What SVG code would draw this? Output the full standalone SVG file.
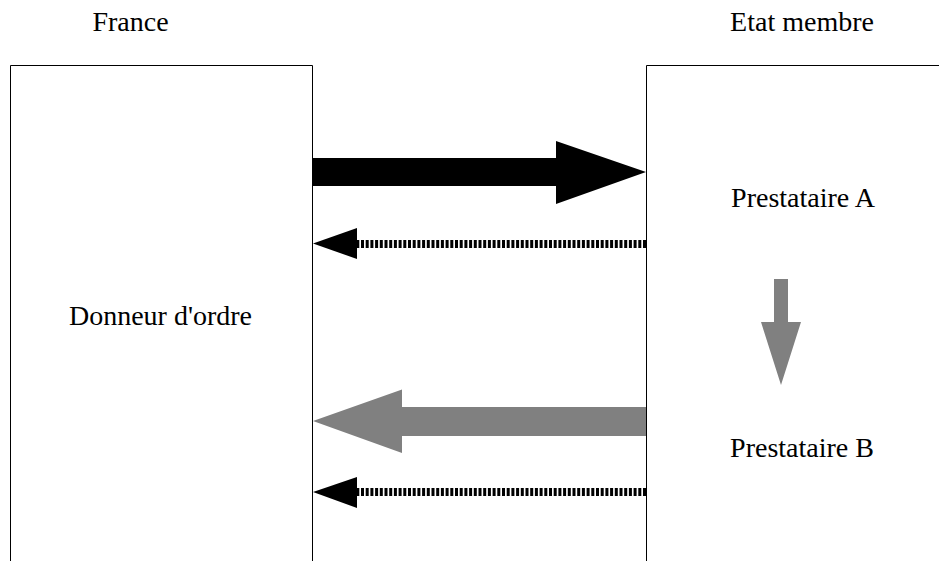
<svg xmlns="http://www.w3.org/2000/svg" width="939" height="561" viewBox="0 0 939 561">
<style>
.t{font-size:28px;fill:#000;text-anchor:middle}
.box{fill:none;stroke:#000;stroke-width:1}
.dot{stroke:#000;stroke-width:8;stroke-dasharray:3 1.7;fill:none}
</style>
<rect width="939" height="561" fill="#fff"/>
<g font-family="Liberation Serif, DejaVu Serif, serif">
<text class="t" x="130.5" y="31">France</text>
<text class="t" x="802" y="31">Etat membre</text>
</g>
<g id="donneur" font-family="Liberation Serif, DejaVu Serif, serif">
<path class="box" d="M10.5 570 V65.5 H312.5 V570"/>
<text class="t" x="160.5" y="325">Donneur d'ordre</text>
</g>
<g id="etat" font-family="Liberation Serif, DejaVu Serif, serif">
<path class="box" d="M646.5 570 V65.5 H950"/>
<text class="t" x="803" y="207">Prestataire A</text>
<text class="t" x="802" y="457">Prestataire B</text>
</g>
<g id="connectors">
<polygon points="313,158 556,158 556,141 646,172 556,204 556,186 313,186" fill="#000"/>
<line class="dot" x1="646" y1="244" x2="357" y2="244"/>
<polygon points="313,243.5 357,228 357,259" fill="#000"/>
<polygon points="646,407 402,407 402,389.5 313,421 402,453 402,436 646,436" fill="#808080"/>
<line class="dot" x1="646" y1="492" x2="357" y2="492"/>
<polygon points="313,492 357,477 357,508" fill="#000"/>
<polygon points="774,279 788,279 788,322 801,322 781,385 761,322 774,322" fill="#808080"/>
</g>
</svg>
